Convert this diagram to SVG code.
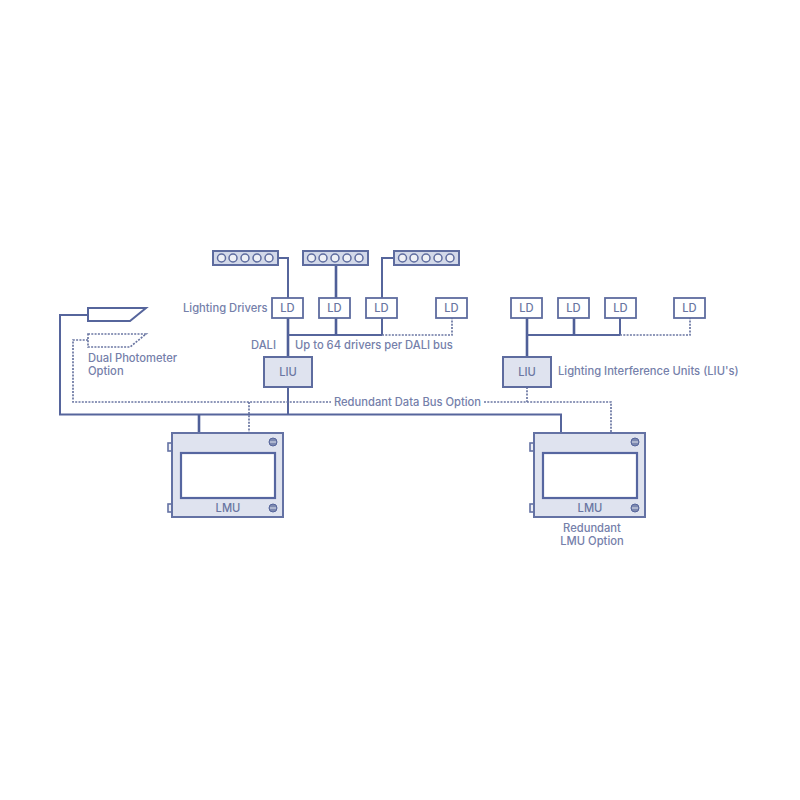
<svg xmlns="http://www.w3.org/2000/svg" width="800" height="800" viewBox="0 0 800 800">
<defs>
<style>
text{font-family:"Inter","Liberation Sans",sans-serif;font-size:11.2px;font-weight:500;fill:#7580aa}
.c{text-anchor:middle}
.dk{fill:#6a76a2}
.line{fill:none;stroke:#56659c;stroke-width:2}
.thick{fill:none;stroke:#4f5f98;stroke-width:2.6}
.dot{fill:none;stroke:#6a76a2;stroke-width:1.7;stroke-dasharray:2 1.3}
.ld{fill:#fff;stroke:#5e6c9f;stroke-width:1.8}
.liu{fill:#dfe3ef;stroke:#5e6c9f;stroke-width:2}
.strip{fill:#d3d9e9;stroke:#5e6c9f;stroke-width:2}
.led{fill:#eef0f6;stroke:#5e6c9f;stroke-width:1.5}
.lmu{fill:#dfe3ef;stroke:#6472a4;stroke-width:2}
.win{fill:#fff;stroke:#5666a0;stroke-width:2.2}
.tab{fill:#eef0f6;stroke:#6472a4;stroke-width:1.6}
.scr{fill:#7d89b0;stroke:#56659c;stroke-width:1}
.bar{stroke:#dfe3ef;stroke-width:1}
</style>
<g id="led-strip">
<rect x="0" y="0" width="65" height="14" class="strip"/>
<circle cx="8.500" cy="7" r="4" class="led"/><circle cx="20" cy="7" r="4" class="led"/><circle cx="32" cy="7" r="4" class="led"/><circle cx="44" cy="7" r="4" class="led"/><circle cx="56" cy="7" r="4" class="led"/>
</g>
<g id="lmu-box">
<rect x="-4" y="10" width="5" height="8" class="tab"/>
<rect x="-4" y="71" width="5" height="8" class="tab"/>
<rect x="0" y="0" width="111" height="84" class="lmu"/>
<rect x="9" y="20" width="94" height="45" class="win"/>
<circle cx="101" cy="9" r="4" class="scr"/><line x1="98" y1="9" x2="104" y2="9" class="bar"/>
<circle cx="101" cy="75" r="4" class="scr"/><line x1="98" y1="75" x2="104" y2="75" class="bar"/>
</g>
</defs>
<rect width="800" height="800" fill="#fff"/>
<g id="connectors">
<path class="line" d="M88 315H60V414.500H561V433"/>
<path class="thick" d="M199 414.500V433"/>
<path class="line" d="M288 387V414.500"/>
<path class="dot" d="M88 340H73V402H331M484 402H611V433M249 402V433M527 387V402"/>
<path class="line" d="M277 258H288V298"/>
<path class="thick" d="M288 318V357"/>
<path class="thick" d="M336 265V298"/>
<path class="line" d="M393 258H382V298"/>
<path class="line" d="M288 335H382"/>
<path class="thick" d="M336 318V335"/>
<path class="line" d="M382 318V335"/>
<path class="dot" d="M382 335H452V318"/>
<path class="thick" d="M527 318V357"/>
<path class="line" d="M527 335H620"/>
<path class="thick" d="M574 318V335"/>
<path class="line" d="M620 318V335"/>
<path class="dot" d="M620 335H690V318"/>
</g>
<g id="strip1"><use href="#led-strip" x="213" y="251"/></g>
<g id="strip2"><use href="#led-strip" x="303" y="251"/></g>
<g id="strip3"><use href="#led-strip" x="394" y="251"/></g>
<g id="ld1"><rect x="272" y="298" width="31" height="20" class="ld"/><text x="287.500" y="312" class="c dk">LD</text></g>
<g id="ld2"><rect x="319" y="298" width="31" height="20" class="ld"/><text x="334.500" y="312" class="c dk">LD</text></g>
<g id="ld3"><rect x="366" y="298" width="31" height="20" class="ld"/><text x="381.500" y="312" class="c dk">LD</text></g>
<g id="ld4"><rect x="436" y="298" width="31" height="20" class="ld"/><text x="451.500" y="312" class="c dk">LD</text></g>
<g id="ld5"><rect x="511" y="298" width="31" height="20" class="ld"/><text x="526.500" y="312" class="c dk">LD</text></g>
<g id="ld6"><rect x="558" y="298" width="31" height="20" class="ld"/><text x="573.500" y="312" class="c dk">LD</text></g>
<g id="ld7"><rect x="605" y="298" width="31" height="20" class="ld"/><text x="620.500" y="312" class="c dk">LD</text></g>
<g id="ld8"><rect x="674" y="298" width="31" height="20" class="ld"/><text x="689.500" y="312" class="c dk">LD</text></g>
<g id="liu1"><rect x="264" y="357" width="48" height="30" class="liu"/><text x="288" y="376" class="c dk">LIU</text></g>
<g id="liu2"><rect x="503" y="357" width="48" height="30" class="liu"/><text x="527" y="376" class="c dk">LIU</text></g>
<g id="photometer"><path d="M88 308H146L130 321H88Z" fill="#fff" stroke="#56659c" stroke-width="2"/></g>
<g id="photometer-option"><path d="M88 334H146L130 347H88Z" fill="#fff" class="dot"/></g>
<g id="lmu1"><use href="#lmu-box" x="172" y="433"/><text x="228" y="512" class="c dk">LMU</text></g>
<g id="lmu2"><use href="#lmu-box" x="534" y="433"/><text x="590" y="512" class="c dk">LMU</text></g>
<g id="labels">
<text x="183" y="312">Lighting Drivers</text>
<text x="251" y="349">DALI</text>
<text x="295" y="349">Up to 64 drivers per DALI bus</text>
<text x="88" y="362">Dual Photometer</text>
<text x="88" y="375">Option</text>
<text x="558" y="375">Lighting Interference Units (LIU's)</text>
<text x="407.500" y="405.500" class="c">Redundant Data Bus Option</text>
<text x="592" y="531.500" class="c">Redundant</text>
<text x="592" y="544.500" class="c">LMU Option</text>
</g>
</svg>
